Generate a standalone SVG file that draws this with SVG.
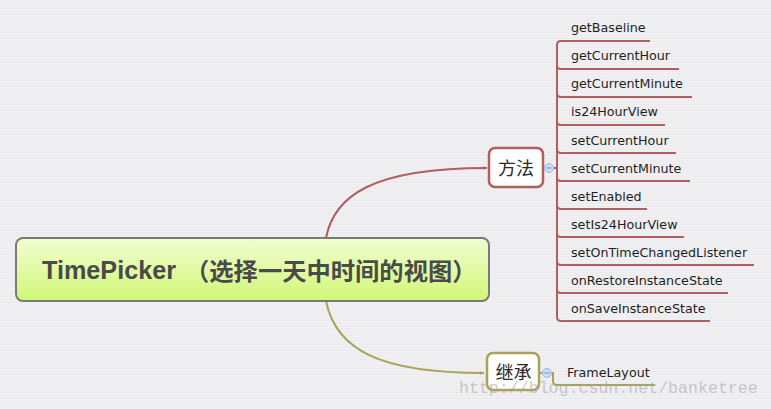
<svg xmlns="http://www.w3.org/2000/svg" width="771" height="409" viewBox="0 0 771 409">
<defs>
<pattern id="bg" width="8" height="3" patternUnits="userSpaceOnUse">
<rect width="8" height="3" fill="#ececee"/>
<rect width="8" height="1.5" fill="#f1f1f3"/>
</pattern>
<linearGradient id="rootg" x1="0" y1="0" x2="0" y2="1">
<stop offset="0" stop-color="#f2fdd2"/>
<stop offset="1" stop-color="#d1f776"/>
</linearGradient>
<marker id="ar" viewBox="0 0 10 10" refX="9" refY="5" markerWidth="5" markerHeight="5" orient="auto" markerUnits="userSpaceOnUse">
<path d="M0,1 L10,5 L0,9 z" fill="#b35e5e"/>
</marker>
<marker id="ag" viewBox="0 0 10 10" refX="9" refY="5" markerWidth="5" markerHeight="5" orient="auto" markerUnits="userSpaceOnUse">
<path d="M0,1 L10,5 L0,9 z" fill="#a9a25a"/>
</marker>
</defs>
<style>
.red{fill:none;stroke:#b35e5e;stroke-width:2}
.olv{fill:none;stroke:#a9a25a;stroke-width:2}
.item{font-family:"DejaVu Sans",sans-serif;font-size:12.7px;fill:#1e1e1e}
.cjk{font-family:"Noto Sans CJK SC",sans-serif;font-size:18px;fill:#2a2a2a;text-anchor:middle}
.tog{fill:#cddcf7;stroke:#9fb5e3;stroke-width:1}
.togm{stroke:#6f8fd0;stroke-width:1}
</style>
<rect width="771" height="409" fill="url(#bg)"/>

<g id="connectors">
<path class="red" d="M326,238 C334,196 372,168 487,168" marker-end="url(#ar)"/>
<path class="olv" d="M326,301 C336,350 380,373 484,373" marker-end="url(#ag)"/>
<path class="red" d="M543,168 H557"/>
<path class="red" d="M557,45 V317"/>
<path class="red" d="M557,45 Q557,41 561,41 H650"/>
<path class="red" d="M557,65 Q557,69 561,69 H679"/>
<path class="red" d="M557,93 Q557,97 561,97 H692"/>
<path class="red" d="M557,121 Q557,125 561,125 H665"/>
<path class="red" d="M557,149 Q557,153 561,153 H676"/>
<path class="red" d="M557,177 Q557,181 561,181 H690"/>
<path class="red" d="M557,205 Q557,209 561,209 H647"/>
<path class="red" d="M557,233 Q557,237 561,237 H684"/>
<path class="red" d="M557,261 Q557,265 561,265 H754"/>
<path class="red" d="M557,289 Q557,293 561,293 H728"/>
<path class="red" d="M557,317 Q557,321 561,321 H710"/>
<path class="olv" d="M539,373 H553 V381 Q553,385 557,385 H655"/>
</g>

<g id="root">
<rect x="16" y="238" width="473" height="63" rx="7" fill="url(#rootg)" stroke="#7a7a7a" stroke-width="2"/>
<text x="42" y="279" font-family="Liberation Sans, sans-serif" font-weight="bold" font-size="25" fill="#4a4a4a" textLength="134" lengthAdjust="spacingAndGlyphs">TimePicker</text>
<text x="185" y="280" font-family="Noto Sans CJK SC, sans-serif" font-weight="bold" font-size="24.3" fill="#4a4a4a">（选择一天中时间的视图）</text>
</g>

<g id="methods">
<rect x="489" y="148" width="54" height="39" rx="6" fill="#ffffff" stroke="#b35e5e" stroke-width="2.5"/>
<text class="cjk" x="516" y="175">方法</text>
<circle class="tog" cx="549" cy="168" r="4.5"/>
<path class="togm" d="M546.5,168 H551.5"/>
</g>

<g id="inherit">
<rect x="487" y="353" width="52" height="37" rx="6" fill="#ffffff" stroke="#a9a25a" stroke-width="2.5"/>
<text class="cjk" x="513.5" y="379">继承</text>
<circle class="tog" cx="547" cy="373" r="4.5"/>
<path class="togm" d="M544.5,373 H549.5"/>
</g>

<g id="items">
<text class="item" x="571" y="32">getBaseline</text>
<text class="item" x="571" y="60">getCurrentHour</text>
<text class="item" x="571" y="88">getCurrentMinute</text>
<text class="item" x="571" y="116">is24HourView</text>
<text class="item" x="571" y="145">setCurrentHour</text>
<text class="item" x="571" y="173">setCurrentMinute</text>
<text class="item" x="571" y="201">setEnabled</text>
<text class="item" x="571" y="229">setIs24HourView</text>
<text class="item" x="571" y="257">setOnTimeChangedListener</text>
<text class="item" x="571" y="285">onRestoreInstanceState</text>
<text class="item" x="571" y="313">onSaveInstanceState</text>
<text class="item" x="567" y="377">FrameLayout</text>
</g>

<text x="459" y="393" font-family="Liberation Mono, monospace" font-size="16.6" fill="#a8a8a8" fill-opacity="0.6">http://blog.csdn.net/banketree</text>
</svg>
